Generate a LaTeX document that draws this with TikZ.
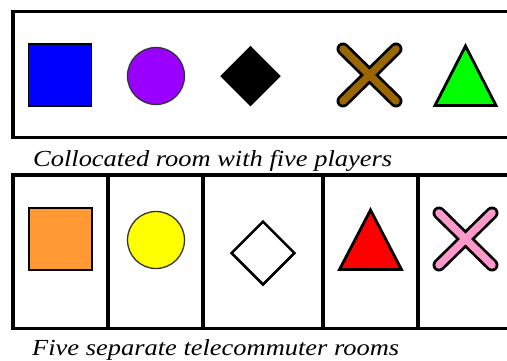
\documentclass[tikz,border=0pt]{standalone}
\usepackage{fontspec}
\setmainfont{Liberation Serif}
\usetikzlibrary{shapes.geometric}
\definecolor{pblue}{HTML}{0000FF}
\definecolor{ppurple}{HTML}{9900FF}
\definecolor{pbrown}{HTML}{996600}
\definecolor{pgreen}{HTML}{00FF00}
\definecolor{porange}{HTML}{FF9933}
\definecolor{pyellow}{HTML}{FFFF00}
\definecolor{pred}{HTML}{FF0000}
\definecolor{ppink}{HTML}{FF99CC}
\tikzset{
  room/.style={draw=black, line width=3.2pt},
  sq/.style={rectangle, draw=black, line width=1.8pt, minimum width=63pt, minimum height=62pt, inner sep=0pt},
  circ/.style={circle, draw=black!80, line width=1.3pt, minimum size=57pt, inner sep=0pt},
  dia/.style={diamond, draw=black, line width=2.5pt, minimum size=60pt, inner sep=0pt},
  tri/.style={draw=black, line width=2.8pt, line join=miter},
  xout/.style={draw=black, line width=13pt, line cap=round},
  xin/.style={line width=7.5pt, line cap=round},
  caption/.style={font=\fontsize{23}{26}\selectfont\itshape, anchor=base west, inner sep=0pt}
}
\newcommand{\capwide}[1]{\scalebox{1.15}[1]{#1}}
\begin{document}
\begin{tikzpicture}[x=1pt,y=-1pt]
\useasboundingbox (0,0) rectangle (507,360);
\clip (0,0) rectangle (507,360);
\fill[white] (0,0) rectangle (507,360);
% top room
\draw[room] (13,11.5) rectangle (520,137.5);
\node[sq, fill=pblue] (bsq) at (60,75) {};
\node[circ, fill=ppurple] (pcirc) at (156,76) {};
\node[dia, fill=black, minimum size=58pt] (bdia) at (250.5,76) {};
\coordinate (bx1) at (343,49); \coordinate (bx2) at (396,101);
\coordinate (bx3) at (343,101); \coordinate (bx4) at (396,49);
\draw[xout] (bx1) -- (bx2) (bx3) -- (bx4);
\draw[xin, pbrown] (bx1) -- (bx2) (bx3) -- (bx4);
\coordinate (gt1) at (435,105.5); \coordinate (gt2) at (496,105.5); \coordinate (gt3) at (465.5,46);
\filldraw[tri, fill=pgreen] (gt1) -- (gt2) -- (gt3) -- cycle;
\node[caption] (cap1) at (33,166) {\capwide{Collocated room with five players}};
% bottom rooms
\draw[room] (13,175) rectangle (520,328.5);
\coordinate (d1t) at (108,175); \coordinate (d1b) at (108,328.5);
\coordinate (d2t) at (203,175); \coordinate (d2b) at (203,328.5);
\coordinate (d3t) at (323,175); \coordinate (d3b) at (323,328.5);
\coordinate (d4t) at (418,175); \coordinate (d4b) at (418,328.5);
\draw[room] (d1t) -- (d1b) (d2t) -- (d2b) (d3t) -- (d3b) (d4t) -- (d4b);
\node[sq, fill=porange] (osq) at (60.5,239) {};
\node[circ, fill=pyellow] (ycirc) at (156,240) {};
\node[dia, fill=white, minimum size=64pt] (wdia) at (263,253) {};
\coordinate (rt1) at (339.5,269.5); \coordinate (rt2) at (401.5,269.5); \coordinate (rt3) at (370.5,210);
\filldraw[tri, fill=pred] (rt1) -- (rt2) -- (rt3) -- cycle;
\coordinate (px1) at (439,213); \coordinate (px2) at (492,265);
\coordinate (px3) at (439,265); \coordinate (px4) at (492,213);
\draw[xout] (px1) -- (px2) (px3) -- (px4);
\draw[xin, ppink] (px1) -- (px2) (px3) -- (px4);
\node[caption] (cap2) at (32,355) {\capwide{Five separate telecommuter rooms}};
\end{tikzpicture}
\end{document}
